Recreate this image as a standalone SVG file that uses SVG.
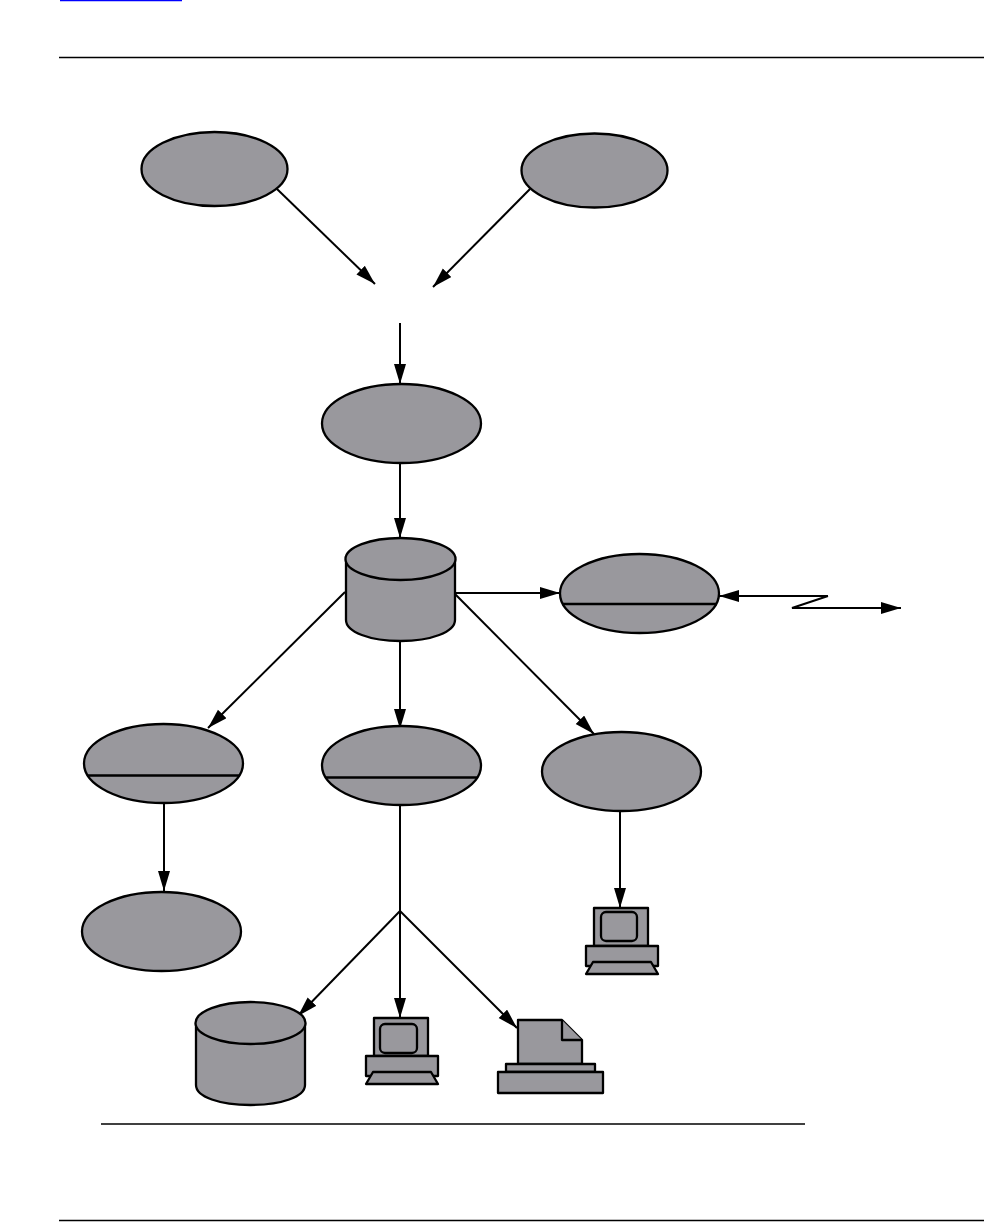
<svg xmlns="http://www.w3.org/2000/svg" width="984" height="1222" viewBox="0 0 984 1222">
<style>
.s{fill:#99989d;stroke:#000;stroke-width:2.3;stroke-linejoin:round}
.o{fill:none;stroke:#000;stroke-width:2.3;stroke-linejoin:round}
.c{fill:none;stroke:#000;stroke-width:2;marker-end:url(#a)}
.l{fill:none;stroke:#000;stroke-width:2}
.r{fill:none;stroke:#000;stroke-width:1.6}
</style>
<defs><marker id="a" markerUnits="userSpaceOnUse" markerWidth="22" markerHeight="14" refX="20" refY="6" orient="auto"><path d="M0 0L20 6L0 12Z" fill="#000"/></marker></defs>
<rect width="984" height="1222" fill="#fff"/>
<g id="page-rules">
<line x1="60" y1="0.5" x2="182" y2="0.5" stroke="#0000ff" stroke-width="1.5"/>
<line x1="59" y1="57.500" x2="984" y2="57.500" class="r"/>
<line x1="101" y1="1124" x2="805" y2="1124" class="r"/>
<line x1="59" y1="1220.500" x2="984" y2="1220.500" class="r"/>
</g>
<g id="connectors">
<line x1="277" y1="189" x2="375" y2="284" class="c"/>
<line x1="530" y1="189" x2="433" y2="287" class="c"/>
<line x1="400" y1="323" x2="400" y2="384" class="c"/>
<line x1="400" y1="463" x2="400" y2="538" class="c"/>
<line x1="345" y1="592" x2="208" y2="728" class="c"/>
<line x1="400" y1="641" x2="400" y2="729" class="c"/>
<line x1="455" y1="594" x2="594" y2="734" class="c"/>
<line x1="455" y1="593" x2="560" y2="593" class="c"/>
<line x1="164" y1="803" x2="164" y2="891" class="c"/>
<line x1="400" y1="805" x2="400" y2="911" class="l"/>
<line x1="400" y1="911" x2="298" y2="1016" class="c"/>
<line x1="400" y1="911" x2="400" y2="1018" class="c"/>
<line x1="400" y1="911" x2="517" y2="1028" class="c"/>
<line x1="620" y1="809" x2="620" y2="908" class="c"/>
<path d="M828 596L719 596" class="c"/>
<path d="M828 596L792 608L901 608" class="c"/>
</g>
<g id="ellipse-top-left"><ellipse cx="214.500" cy="169" rx="73" ry="37" class="s"/></g>
<g id="ellipse-top-right"><ellipse cx="594.500" cy="170.500" rx="73" ry="37" class="s"/></g>
<g id="ellipse-mid"><ellipse cx="401.500" cy="423.500" rx="79.500" ry="39.500" class="s"/></g>
<g id="database-main">
<path d="M346 559L346 620C346 632 370 641 400.500 641C431 641 455 632 455 620L455 559" class="s"/>
<ellipse cx="400.500" cy="559" rx="55" ry="21" class="s"/>
</g>
<g id="ellipse-split-right"><ellipse cx="639.500" cy="593.500" rx="79.500" ry="39.500" class="s"/><line x1="562" y1="604" x2="717" y2="604" class="o"/></g>
<g id="ellipse-split-left"><ellipse cx="163.500" cy="763.500" rx="79.500" ry="39.500" class="s"/><line x1="87" y1="775.500" x2="240" y2="775.500" class="o"/></g>
<g id="ellipse-split-center"><ellipse cx="401.500" cy="765.500" rx="79.500" ry="39.500" class="s"/><line x1="325" y1="777.500" x2="478" y2="777.500" class="o"/></g>
<g id="ellipse-right"><ellipse cx="621.500" cy="771.500" rx="79.500" ry="39.500" class="s"/></g>
<g id="ellipse-bottom-left"><ellipse cx="161.500" cy="931.500" rx="79.500" ry="39.500" class="s"/></g>
<g id="terminal-right">
<rect x="594" y="908" width="54" height="38" class="s"/>
<rect x="601" y="912" width="36" height="29" rx="5" class="s"/>
<rect x="586" y="946" width="72" height="20" class="s"/>
<path d="M593 962L651 962L658 974L586 974Z" class="s"/>
</g>
<g id="database-bottom">
<path d="M196 1023L196 1085C196 1097 220 1105 250.500 1105C281 1105 305 1097 305 1085L305 1023" class="s"/>
<ellipse cx="250.500" cy="1023" rx="55" ry="21" class="s"/>
</g>
<g id="terminal-bottom">
<rect x="374" y="1018" width="54" height="38" class="s"/>
<rect x="380" y="1024" width="37" height="29" rx="5" class="s"/>
<rect x="366" y="1056" width="72" height="20" class="s"/>
<path d="M373 1072L431 1072L438 1084L366 1084Z" class="s"/>
</g>
<g id="printer">
<path d="M518 1020L562 1020L582 1040L582 1064L518 1064Z" class="s"/>
<path d="M562 1020L562 1040L582 1040" class="s"/>
<rect x="506" y="1064" width="89" height="8" class="s"/>
<rect x="498" y="1072" width="105" height="21" class="s"/>
</g>
</svg>
